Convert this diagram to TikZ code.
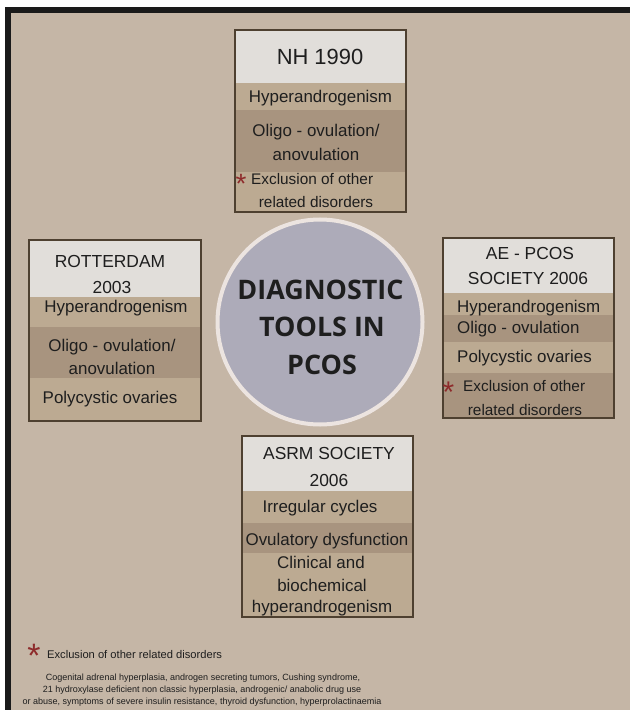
\documentclass[tikz,border=0pt]{standalone}
\usepackage{fontspec}
\setmainfont{Liberation Sans}
\newfontfamily\titlefont{Open Sans}
\definecolor{bgc}{HTML}{C5B6A6}
\definecolor{framec}{HTML}{1A1A1A}
\definecolor{hdrc}{HTML}{E1DEDA}
\definecolor{bandL}{HTML}{BCAA92}
\definecolor{bandD}{HTML}{A8947F}
\definecolor{boxc}{HTML}{4E4030}
\definecolor{circc}{HTML}{ADABB9}
\definecolor{ringc}{HTML}{ECE4E0}
\definecolor{txtc}{HTML}{1E1E1E}
\definecolor{starc}{HTML}{8E2B2B}
\tikzset{
  hdr/.style={fill=hdrc},
  lt/.style={fill=bandL},
  dk/.style={fill=bandD},
  boxline/.style={draw=boxc, line width=1.5bp},
  txt/.style={text=txtc, inner sep=0pt, anchor=center},
  itm/.style={txt, font=\fontsize{17}{24}\selectfont, align=center},
  itmw/.style={txt, font=\fontsize{17}{24}\selectfont, anchor=west},
  exc/.style={txt, font=\fontsize{15.4}{22}\selectfont},
  head/.style={txt, font=\fontsize{17.5}{24}\selectfont},
  star/.style={text=starc, inner sep=0pt, anchor=base},
  ttl/.style={txt, font=\titlefont\bfseries\fontsize{27}{30}\selectfont},
  note/.style={txt, font=\fontsize{9.05}{12}\selectfont},
}
\begin{document}
\begin{tikzpicture}[x=1bp,y=-1bp]
\useasboundingbox (0,0) rectangle (630,710);
\fill[white] (0,0) rectangle (630,710);
\fill[framec] (5,7) rectangle (630,710);
\fill[bgc] (11,13) rectangle (630,710);

% ---------- NH 1990 box
\fill[hdr] (235,30) rectangle (406,83);
\fill[lt] (235,83) rectangle (406,110);
\fill[dk] (235,110) rectangle (406,172);
\fill[lt] (235,172) rectangle (406,212);
\draw[boxline] (235,30) rectangle (406,212);
\node[txt, font=\fontsize{22}{26}\selectfont] (nh) at (320,57) {NH 1990};
\node[itm] (nh1) at (320.5,98) {Hyperandrogenism};
\node[itm] (nh2) at (316,142) {Oligo - ovulation/\\anovulation};
\node[star, font=\fontsize{28}{30}\selectfont] (nhs) at (241,193.4) {*};
\node[exc, anchor=west] (nh3) at (251,179.5) {Exclusion of other};
\node[exc] (nh4) at (316,202.5) {related disorders};

% ---------- ROTTERDAM box
\fill[hdr] (29,240) rectangle (201,297);
\fill[lt] (29,297) rectangle (201,327);
\fill[dk] (29,327) rectangle (201,378);
\fill[lt] (29,378) rectangle (201,421);
\draw[boxline] (29,240) rectangle (201,421);
\node[head] (ro) at (110,261) {ROTTERDAM};
\node[head] (ro2) at (112,287) {2003};
\node[itm] (ro3) at (116,308) {Hyperandrogenism};
\node[itm, font=\fontsize{17}{23}\selectfont] (ro4) at (112,356.5) {Oligo - ovulation/\\anovulation};
\node[itm] (ro5) at (110,399) {Polycystic ovaries};

% ---------- AE-PCOS box
\fill[hdr] (443,238) rectangle (614,293);
\fill[lt] (443,293) rectangle (614,315);
\fill[dk] (443,315) rectangle (614,342);
\fill[lt] (443,342) rectangle (614,373);
\fill[dk] (443,373) rectangle (614,418);
\draw[boxline] (443,238) rectangle (614,418);
\node[head] (ae) at (530,253) {AE - PCOS};
\node[head] (ae2) at (528,278) {SOCIETY 2006};
\node[itmw] (ae3) at (457,308) {Hyperandrogenism};
\node[itmw] (ae4) at (457,329) {Oligo - ovulation};
\node[itmw] (ae5) at (457,358) {Polycystic ovaries};
\node[star, font=\fontsize{30}{32}\selectfont] (aes) at (448.5,402.4) {*};
\node[exc, anchor=west] (ae6) at (463,386.5) {Exclusion of other};
\node[exc] (ae7) at (525,410.5) {related disorders};

% ---------- ASRM box
\fill[hdr] (242,436) rectangle (413,491);
\fill[lt] (242,491) rectangle (413,523);
\fill[dk] (242,523) rectangle (413,553);
\fill[lt] (242,553) rectangle (413,617);
\draw[boxline] (242,436) rectangle (413,617);
\node[head] (as) at (329,453) {ASRM SOCIETY};
\node[head] (as2) at (329,480) {2006};
\node[itm] (as3) at (320,508) {Irregular cycles};
\node[itm] (as4) at (327,541) {Ovulatory dysfunction};
\node[itm] (as5) at (321,562) {Clinical and};
\node[itm] (as6) at (322,585) {biochemical};
\node[itm] (as7) at (322,608) {hyperandrogenism};

% ---------- central circle
\node[circle, fill=circc, draw=ringc, line width=4bp, minimum size=205bp, inner sep=0pt] (c) at (320,322) {};
\node[ttl] (t1) at (320.5,290) {DIAGNOSTIC};
\node[ttl] (t2) at (322,327) {TOOLS IN};
\node[ttl] (t3) at (322,365) {PCOS};

% ---------- legend
\node[star, font=\fontsize{34}{36}\selectfont] (ls) at (34,667.5) {*};
\node[txt, anchor=west, font=\fontsize{11.2}{14}\selectfont] (lt) at (47,655) {Exclusion of other related disorders};
\node[note] (l1) at (203,678) {Cogenital adrenal hyperplasia, androgen secreting tumors, Cushing syndrome,};
\node[note] (l2) at (202,690) {21 hydroxylase deficient non classic hyperplasia, androgenic/ anabolic drug use};
\node[note] (l3) at (202,702) {or abuse, symptoms of severe insulin resistance, thyroid dysfunction, hyperprolactinaemia};
\end{tikzpicture}
\end{document}
